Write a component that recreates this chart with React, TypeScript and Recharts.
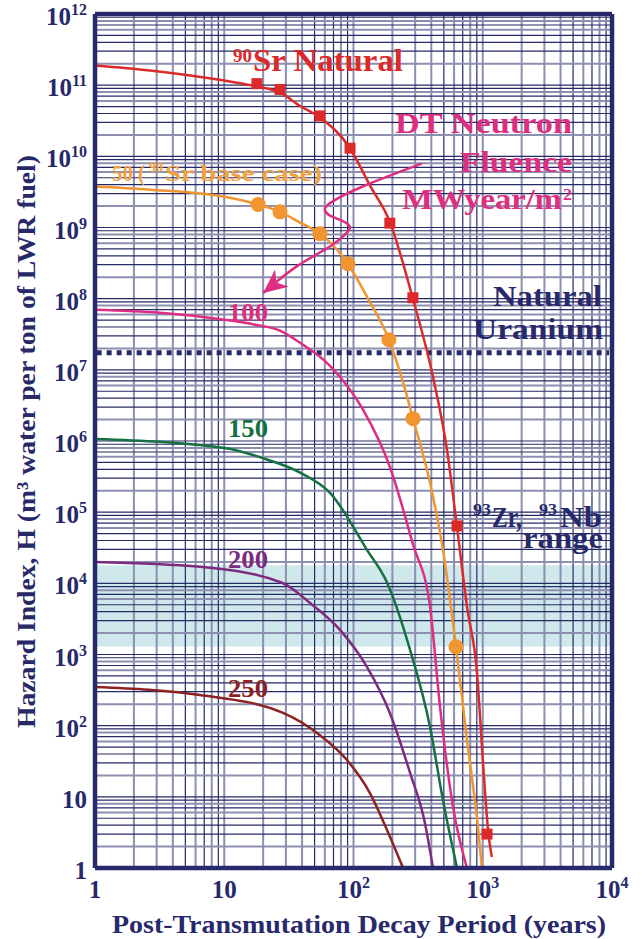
import React from "react";
import { ComposedChart, Line, XAxis, YAxis, ReferenceLine, ReferenceArea } from "recharts";

const NAVY = "#27296a";
const GRID_LIGHT = "#8c8fb0";
const GRID_DARK = "#262a66";
const FONT = "'Liberation Serif', 'DejaVu Serif', serif";

const xTicks = [1, 10, 100, 1000, 10000];
const yTicks = [1, 1e1, 1e2, 1e3, 1e4, 1e5, 1e6, 1e7, 1e8, 1e9, 1e10, 1e11, 1e12];

// multipliers inside a decade, light or dark rule
const xGridLight = [2, 3, 4, 6, 8, 10];
const xGridDark = [5, 7, 9];
const yGridLight = [2, 6, 8];
const yGridDark = [3, 4, 5, 7, 9, 10];

const uraniumLevel = 1.74e7;
const zrNbRange = [1.3e3, 1.8e4];

// 90Sr natural decay
const srNatural = [
  { x: 1, y: 1.89e11 }, { x: 2.66, y: 1.61e11 }, { x: 10, y: 1.16e11 }, { x: 17.9, y: 9.6e10 },
  { x: 27, y: 7.9e10 }, { x: 38.6, y: 5.1e10 }, { x: 55, y: 3.5e10 }, { x: 94, y: 1.3e10 },
  { x: 134, y: 3.9e9 }, { x: 191, y: 1.2e9 }, { x: 288, y: 1.0e8 }, { x: 412, y: 8.0e6 },
  { x: 529, y: 7.5e5 }, { x: 632, y: 6.2e4 }, { x: 755, y: 4.7e3 }, { x: 903, y: 552 },
  { x: 1010, y: 26 }, { x: 1105, y: 3.1 }, { x: 1175, y: 1.43 },
];
const srSquares = [
  { x: 17.9, y: 1.05e11 }, { x: 27, y: 8.7e10 }, { x: 55, y: 3.7e10 }, { x: 94, y: 1.3e10 },
  { x: 191, y: 1.15e9 }, { x: 288, y: 1.03e8 }, { x: 632, y: 6.4e4 }, { x: 1079, y: 3.0 },
];

// fluence 50 (base case)
const fluence50 = [
  { x: 1, y: 3.76e9 }, { x: 2.66, y: 3.4e9 }, { x: 10, y: 2.7e9 }, { x: 18.3, y: 2.1e9 },
  { x: 27, y: 1.66e9 }, { x: 38.6, y: 1.17e9 }, { x: 55, y: 8.2e8 }, { x: 90.5, y: 3.1e8 },
  { x: 127, y: 1.07e8 }, { x: 188, y: 2.65e7 }, { x: 242, y: 6.6e6 }, { x: 289, y: 2.06e6 },
  { x: 391, y: 2.59e5 }, { x: 492, y: 2.96e4 }, { x: 621, y: 1.28e3 }, { x: 755, y: 63 },
  { x: 918, y: 3.8 }, { x: 986, y: 1 },
];
const fluence50Dots = [
  { x: 18.3, y: 2.1e9 }, { x: 27, y: 1.66e9 }, { x: 55, y: 8.2e8 }, { x: 90.5, y: 3.1e8 },
  { x: 188, y: 2.65e7 }, { x: 289, y: 2.06e6 }, { x: 621, y: 1.28e3 },
];

const fluence100 = [
  { x: 1, y: 7.0e7 }, { x: 3.18, y: 6.36e7 }, { x: 10, y: 5.07e7 }, { x: 17.3, y: 4.31e7 },
  { x: 27, y: 3.55e7 }, { x: 38.6, y: 2.4e7 }, { x: 65.8, y: 1.14e7 }, { x: 118.5, y: 2.75e6 },
  { x: 191, y: 4.35e5 }, { x: 289, y: 3.5e4 }, { x: 391, y: 4.7e3 }, { x: 467, y: 184 },
  { x: 589, y: 7.2 }, { x: 755, y: 1 },
];

const fluence150 = [
  { x: 1, y: 1.07e6 }, { x: 10, y: 8.0e5 }, { x: 21.4, y: 5.5e5 }, { x: 38.6, y: 3.6e5 },
  { x: 65.8, y: 1.87e5 }, { x: 127, y: 2.96e4 }, { x: 182, y: 1.02e4 }, { x: 274, y: 1.16e3 },
  { x: 391, y: 96 }, { x: 492, y: 9.0 }, { x: 632, y: 1 },
];

const fluence200 = [
  { x: 1, y: 2.0e4 }, { x: 6.5, y: 1.71e4 }, { x: 28, y: 1.02e4 }, { x: 46.1, y: 5.3e3 },
  { x: 78.6, y: 2.22e3 }, { x: 127, y: 670 }, { x: 191, y: 151 }, { x: 274, y: 21.7 },
  { x: 357, y: 4.3 }, { x: 412, y: 1 },
];

const fluence250 = [
  { x: 1, y: 350 }, { x: 2.6, y: 320 }, { x: 6.5, y: 270 }, { x: 28.5, y: 151 },
  { x: 52.2, y: 79 }, { x: 89, y: 33 }, { x: 134, y: 11.3 }, { x: 182, y: 3.4 }, { x: 242, y: 1 },
];

// annotation arrow pointing at rising fluence
const fluenceArrow = [
  { x: 337, y: 7.9e9 }, { x: 119, y: 3.8e9 }, { x: 65.8, y: 2.2e9 }, { x: 60.2, y: 1.74e9 },
  { x: 65.8, y: 1.47e9 }, { x: 83.4, y: 1.22e9 }, { x: 94, y: 1.02e9 }, { x: 88.5, y: 8.4e8 },
  { x: 65.8, y: 5.4e8 }, { x: 36.4, y: 2.84e8 }, { x: 20, y: 1.2e8 },
];

function decadeValues(maxExp: number, mults: number[]) {
  const out: number[] = [];
  for (let k = 0; k < maxExp; k++) mults.forEach((m) => out.push(m * Math.pow(10, k)));
  return out;
}

function PowerLabel({ e }: { e: number }) {
  if (e === 0) return <>1</>;
  if (e === 1) return <>10</>;
  return (
    <>
      <tspan>10</tspan>
      <tspan fontSize={16} dy={-10}>{String(e)}</tspan>
    </>
  );
}

function YTick({ x, y, payload }: any) {
  const e = Math.round(Math.log10(payload.value));
  return (
    <text x={x} y={y + 11} textAnchor="end" fontFamily={FONT} fontWeight="bold" fontSize={25} fill={NAVY}>
      <PowerLabel e={e} />
    </text>
  );
}

function XTick({ x, y, payload }: any) {
  const e = Math.round(Math.log10(payload.value));
  return (
    <text x={x} y={y + 30} textAnchor="middle" fontFamily={FONT} fontWeight="bold" fontSize={25} fill={NAVY}>
      <PowerLabel e={e} />
    </text>
  );
}

const squareDot = (p: any) => (
  <rect key={`sq-${p.index}`} x={p.cx - 5.5} y={p.cy - 5.5} width={11} height={11} fill="#dc2a2a" />
);
const circleDot = (p: any) => (
  <circle key={`c-${p.index}`} cx={p.cx} cy={p.cy} r={7.5} fill="#f0952f" />
);
const arrowHead = (p: any) =>
  p.index === fluenceArrow.length - 1 ? (
    <polygon
      key="head"
      points="0,0 -24,-11 -17,0 -24,11"
      fill="#de2e82"
      transform={`translate(${p.cx},${p.cy}) rotate(141.5)`}
    />
  ) : (
    <g key={`a-${p.index}`} />
  );

export default function App() {
  const vLines = [
    ...decadeValues(4, xGridLight).map((v) => ({ v, light: true })),
    ...decadeValues(4, xGridDark).map((v) => ({ v, light: false })),
  ];
  const hLines = [
    ...decadeValues(12, yGridLight).map((v) => ({ v, light: true })),
    ...decadeValues(12, yGridDark).map((v) => ({ v, light: false })),
  ];
  return (
    <div style={{ position: "absolute", left: 0, top: 0, width: 644, height: 939, background: "#fff" }}>
      <ComposedChart width={644} height={939} margin={{ top: 14, right: 32, bottom: 0, left: 0 }}>
        <XAxis
          dataKey="x"
          type="number"
          scale="log"
          domain={[1, 10000]}
          ticks={xTicks}
          allowDataOverflow
          height={71}
          tickSize={0}
          tickMargin={0}
          tick={<XTick />}
          axisLine={{ stroke: NAVY, strokeWidth: 4.5 }}
        />
        <YAxis
          type="number"
          scale="log"
          domain={[1, 1e12]}
          ticks={yTicks}
          allowDataOverflow
          width={95}
          tickSize={0}
          tickMargin={8}
          tick={<YTick />}
          axisLine={{ stroke: NAVY, strokeWidth: 4.5 }}
        />
        <ReferenceArea y1={zrNbRange[0]} y2={zrNbRange[1]} x1={1} x2={10000} fill="#cfe8ec" fillOpacity={1} stroke="none" />
        {vLines.map((g) => (
          <ReferenceLine
            key={`v${g.v}`}
            x={g.v}
            stroke={g.light ? GRID_LIGHT : GRID_DARK}
            strokeWidth={g.light ? 2 : 1.2}
          />
        ))}
        {hLines.map((g) => (
          <ReferenceLine
            key={`h${g.v}`}
            y={g.v}
            stroke={g.light ? GRID_LIGHT : GRID_DARK}
            strokeWidth={g.light ? 2 : 1.2}
          />
        ))}
        <ReferenceLine y={1e12} stroke={NAVY} strokeWidth={4.5} />
        <ReferenceLine x={10000} stroke={NAVY} strokeWidth={4.5} />
        <ReferenceLine
          segment={[{ x: 1.03, y: uraniumLevel }, { x: 9500, y: uraniumLevel }]}
          stroke={NAVY}
          strokeWidth={5}
          strokeDasharray="5 5"
        />
        <Line data={fluence250} dataKey="y" type="monotone" stroke="#8c2222" strokeWidth={2.5} dot={false} isAnimationActive={false} />
        <Line data={fluence200} dataKey="y" type="monotone" stroke="#7e2b7f" strokeWidth={2.5} dot={false} isAnimationActive={false} />
        <Line data={fluence150} dataKey="y" type="monotone" stroke="#157042" strokeWidth={2.5} dot={false} isAnimationActive={false} />
        <Line data={fluence100} dataKey="y" type="monotone" stroke="#de2e82" strokeWidth={2.5} dot={false} isAnimationActive={false} />
        <Line data={fluence50} dataKey="y" type="monotone" stroke="#f0952f" strokeWidth={2.5} dot={false} isAnimationActive={false} />
        <Line data={srNatural} dataKey="y" type="monotone" stroke="#dc2a2a" strokeWidth={2.5} dot={false} isAnimationActive={false} />
        <Line data={fluence50Dots} dataKey="y" stroke="none" dot={circleDot} isAnimationActive={false} />
        <Line data={srSquares} dataKey="y" stroke="none" dot={squareDot} isAnimationActive={false} />
        <Line data={fluenceArrow} dataKey="y" type="natural" stroke="#de2e82" strokeWidth={2.5} dot={arrowHead} isAnimationActive={false} />
      </ComposedChart>

      <svg width={644} height={939} style={{ position: "absolute", left: 0, top: 0, pointerEvents: "none" }}>
        <g fontFamily={FONT} fontWeight="bold">
          <text x={233} y={62} fontSize={19} fill="#dc2a2a" textLength={19} lengthAdjust="spacingAndGlyphs">90</text>
          <text x={253} y={71} fontSize={31} fill="#dc2a2a" textLength={150} lengthAdjust="spacingAndGlyphs">Sr Natural</text>

          <text x={112} y={181} fontSize={24} fill="#f2a140" textLength={33} lengthAdjust="spacingAndGlyphs">50 (</text>
          <text x={149} y={172} fontSize={14} fill="#f2a140" textLength={14} lengthAdjust="spacingAndGlyphs">90</text>
          <text x={165} y={181} fontSize={24} fill="#f2a140" textLength={157} lengthAdjust="spacingAndGlyphs">Sr base case)</text>

          <text x={395} y={133} fontSize={30} fill="#de2e82" textLength={177} lengthAdjust="spacingAndGlyphs">DT Neutron</text>
          <text x={460} y={172} fontSize={30} fill="#de2e82" textLength={112} lengthAdjust="spacingAndGlyphs">Fluence</text>
          <text x={402} y={209} fontSize={30} fill="#de2e82" textLength={160} lengthAdjust="spacingAndGlyphs">MWyear/m</text>
          <text x={563} y={200} fontSize={17} fill="#de2e82" textLength={9} lengthAdjust="spacingAndGlyphs">2</text>

          <text x={493} y={306} fontSize={30} fill={NAVY} textLength={109} lengthAdjust="spacingAndGlyphs">Natural</text>
          <text x={473} y={339} fontSize={30} fill={NAVY} textLength={130} lengthAdjust="spacingAndGlyphs">Uranium</text>

          <text x={473} y={515} fontSize={17} fill={NAVY} textLength={18} lengthAdjust="spacingAndGlyphs">93</text>
          <text x={492} y={527} fontSize={30} fill={NAVY} textLength={30} lengthAdjust="spacingAndGlyphs">Zr,</text>
          <text x={539} y={515} fontSize={17} fill={NAVY} textLength={18} lengthAdjust="spacingAndGlyphs">93</text>
          <text x={560} y={527} fontSize={30} fill={NAVY} textLength={42} lengthAdjust="spacingAndGlyphs">Nb</text>
          <text x={523} y={548} fontSize={30} fill={NAVY} textLength={80} lengthAdjust="spacingAndGlyphs">range</text>

          <text x={228} y={321} fontSize={26} fill="#de2e82" textLength={40} lengthAdjust="spacingAndGlyphs">100</text>
          <text x={228} y={437} fontSize={26} fill="#157042" textLength={40} lengthAdjust="spacingAndGlyphs">150</text>
          <text x={228} y={568} fontSize={26} fill="#7e2b7f" textLength={40} lengthAdjust="spacingAndGlyphs">200</text>
          <text x={228} y={697} fontSize={26} fill="#8c2222" textLength={40} lengthAdjust="spacingAndGlyphs">250</text>

          <text x={112} y={933} fontSize={26} fill={NAVY} textLength={494} lengthAdjust="spacingAndGlyphs">
            Post-Transmutation Decay Period (years)
          </text>
          <text
            transform="translate(35,441.5) rotate(-90)"
            textAnchor="middle"
            fontSize={26}
            fill={NAVY}
            textLength={573}
            lengthAdjust="spacingAndGlyphs"
          >
            Hazard Index, H (m³ water per ton of LWR fuel)
          </text>
        </g>
      </svg>
    </div>
  );
}
